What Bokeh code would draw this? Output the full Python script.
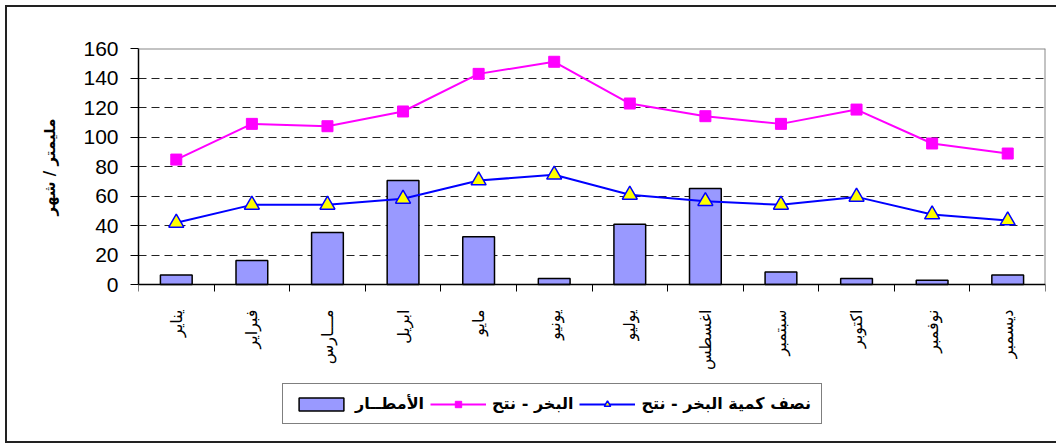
import math
from bokeh.plotting import figure
from bokeh.models import (FixedTicker, Legend, LegendItem, ColumnDataSource,
                          LinearAxis, Span, Title)
from bokeh.embed import file_html
from bokeh.resources import INLINE

months = ["يناير", "فبراير", "مـــارس", "ابريل", "مايو", "يونيو",
          "يوليو", "اغسطس", "سبتمبر", "اكتوبر", "نوفمبر", "ديسمبر"]
rain = [6.5, 16.3, 35.3, 70.5, 32.3, 4.1, 40.9, 65.1, 8.4, 4.1, 2.9, 6.5]
et = [84.7, 108.9, 107.3, 117.3, 142.8, 151.0, 122.7, 114.1, 108.9, 118.6, 95.6, 88.8]
half_et = [41.8, 54.0, 54.0, 58.1, 70.5, 74.4, 60.8, 56.5, 54.0, 59.4, 47.5, 43.4]
y_ticks = [0, 20, 40, 60, 80, 100, 120, 140, 160]

label_rain = "الأمطــار"
label_et = "البخر - نتح"
label_half = "نصف كمية البخر - نتح"
y_title = "مليمتر / شهر"

xs = list(range(1, len(months) + 1))
src = ColumnDataSource(dict(x=xs, rain=rain, et=et, half=half_et))

x_lo, x_hi = 0.5, len(months) + 0.5
y_top = y_ticks[-1]
px_per_unit = 236 / y_top          # frame: 236 px for the 0..160 band
frame_h = 393
y_lo = -(frame_h - 236) / px_per_unit

p = figure(frame_width=907, frame_height=frame_h, output_backend="svg",
           toolbar_location=None, x_axis_location=None,
           x_range=(x_lo, x_hi), y_range=(y_lo, y_top),
           min_border_left=131, min_border_right=11, min_border_top=41,
           min_border_bottom=0)
p.styles = {"margin-left": "5px", "margin-top": "5px",
            "border-left": "2px solid #222", "border-top": "2px solid #222",
            "border-bottom": "2px solid #222"}

p.outline_line_color = None
p.background_fill_color = "white"

# grid
p.xgrid.visible = False
p.ygrid.ticker = FixedTicker(ticks=y_ticks[1:-1])
p.ygrid.grid_line_color = "#222222"
p.ygrid.grid_line_dash = "8 5"
p.ygrid.grid_line_width = 1

# plot-area frame (top and right, grey)
p.add_layout(Span(location=y_top, dimension="width", line_color="#888888",
                  line_width=2))
p.segment(x0=[x_hi], y0=[0], x1=[x_hi], y1=[y_top], line_color="#888888",
          line_width=2)

# y axis
p.yaxis.ticker = FixedTicker(ticks=y_ticks)
p.yaxis.bounds = (0, y_top)
p.yaxis.major_tick_out = 8
p.yaxis.major_tick_in = 0
p.yaxis.minor_tick_line_color = None
p.yaxis.axis_line_width = 1.5
p.yaxis.axis_line_color = "black"
p.yaxis.major_tick_line_color = "black"
p.yaxis.major_label_text_font = "Liberation Sans"
p.yaxis.major_label_text_font_size = "21px"
p.yaxis.major_label_text_color = "black"
p.yaxis.major_label_standoff = 12

# y title, placed in the left panel near the top of the plot band
ytitle = Title(text=y_title, align="right", offset=70, vertical_align="bottom",
               standoff=44, text_font="DejaVu Sans", text_font_style="bold",
               text_font_size="15px", text_color="black")
p.add_layout(ytitle, "left")

# x axis, drawn at y = 0
half_ticks = [i + 0.5 for i in range(0, len(months) + 1)]
xaxis = LinearAxis(fixed_location=0)
xaxis.ticker = FixedTicker(ticks=xs, minor_ticks=half_ticks)
xaxis.major_label_overrides = {i: m for i, m in zip(xs, months)}
xaxis.major_tick_line_color = None
xaxis.minor_tick_out = 7
xaxis.minor_tick_in = 0
xaxis.minor_tick_line_color = "black"
xaxis.axis_line_width = 1.5
xaxis.axis_line_color = "black"
xaxis.major_label_orientation = math.pi / 2
xaxis.major_label_text_font = "DejaVu Sans"
xaxis.major_label_text_font_size = "16px"
xaxis.major_label_text_color = "black"
xaxis.major_label_standoff = 18
p.add_layout(xaxis, "below")

bars = p.vbar(x="x", top="rain", width=0.42, source=src, fill_color="#9999FF",
              line_color="black", line_width=1.5)
l1 = p.line("x", "et", source=src, line_color="#FF00FF", line_width=2)
s1 = p.scatter("x", "et", source=src, marker="square", size=11,
               fill_color="#FF00FF", line_color="#FF00FF")
l2 = p.line("x", "half", source=src, line_color="#0000FF", line_width=2)
s2 = p.scatter("x", "half", source=src, marker="triangle", size=15,
               fill_color="#FFFF00", line_color="#0000FF", line_width=1.5)

legend = Legend(items=[
    LegendItem(label=label_rain, renderers=[bars]),
    LegendItem(label=label_et, renderers=[l1, s1]),
    LegendItem(label=label_half, renderers=[l2, s2]),
], orientation="horizontal", location=(144, 17))
legend.glyph_width = 56
legend.glyph_height = 16
legend.label_standoff = 6
legend.spacing = 6
legend.padding = 10
legend.margin = 0
legend.border_line_color = "black"
legend.border_line_width = 1.5
legend.label_text_font = "DejaVu Sans"
legend.label_text_font_style = "bold"
legend.label_text_font_size = "16px"
legend.label_text_color = "black"
p.add_layout(legend, "center")

open("out.html", "w").write(file_html(p, INLINE))
